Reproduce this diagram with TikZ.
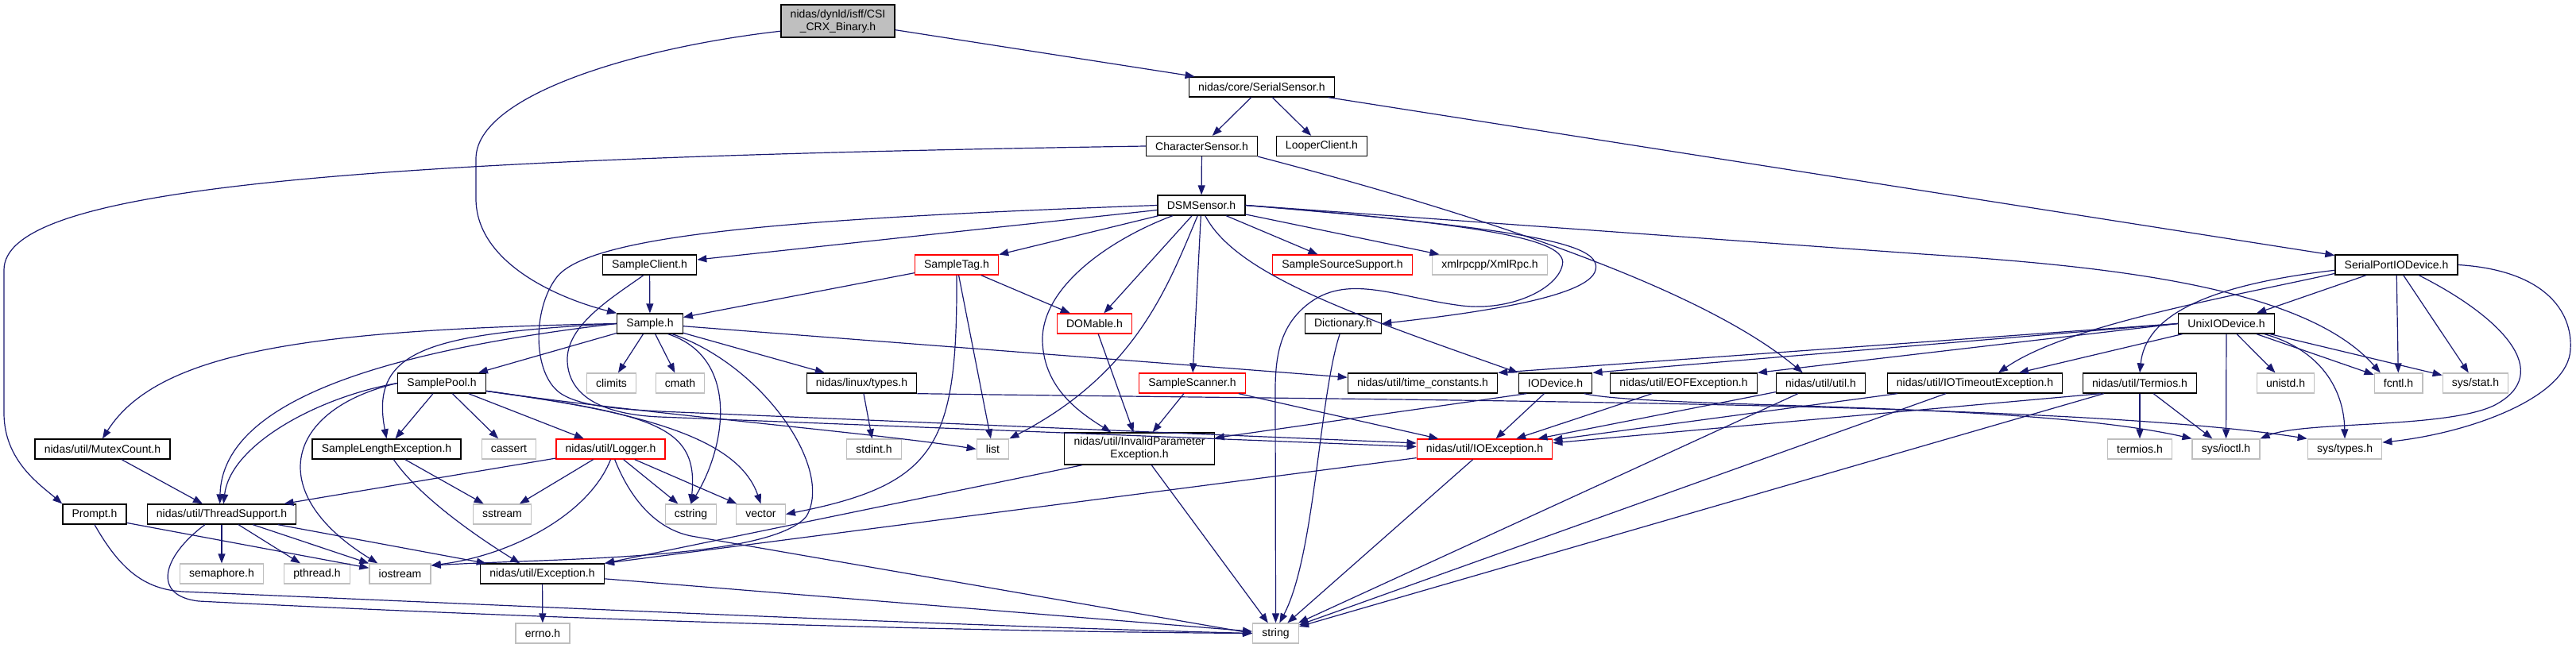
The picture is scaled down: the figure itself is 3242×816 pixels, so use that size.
\documentclass[tikz,border=0pt]{standalone}
\usepackage{fontspec}
\setmainfont{Liberation Sans}
\usepackage{tikz}
\usetikzlibrary{arrows.meta}
\definecolor{depBlue}{HTML}{191970}
\definecolor{sysGray}{HTML}{BFBFBF}
\definecolor{cutRed}{HTML}{FF0000}

\begin{document}
\begin{tikzpicture}[x=1pt, y=-1pt,
  hdr/.style={rectangle, draw=black, fill=white, line width=1.3pt, minimum height=25pt, inner xsep=11.7pt, inner ysep=0pt, font=\fontsize{14}{16}\selectfont},
  sys/.style={hdr, draw=sysGray},
  trunc/.style={hdr, draw=cutRed},
  dep/.style={-{Triangle[length=12pt, width=9pt]}, draw=depBlue, line width=1.2pt}
]
\useasboundingbox (0,0) rectangle (3242,816);
\node[hdr, fill=sysGray, minimum height=41pt, align=center] (root) at (1054.5,26.5) {nidas/dynld/isff/CSI\\\_CRX\_Binary.h};
\node[hdr] (serialsensor) at (1588,109.5) {nidas/core/SerialSensor.h};
\node[hdr] (charsensor) at (1512.5,184) {CharacterSensor.h};
\node[hdr] (looper) at (1663.5,184) {LooperClient.h};
\node[hdr] (dsm) at (1512,258.5) {DSMSensor.h};
\node[hdr] (sampleclient) at (817.5,333.5) {SampleClient.h};
\node[trunc] (sampletag) at (1204,333.5) {SampleTag.h};
\node[trunc] (sourcesupport) at (1689.5,333.5) {SampleSourceSupport.h};
\node[sys] (xmlrpc) at (1875,333.5) {xmlrpcpp/XmlRpc.h};
\node[hdr] (serialport) at (3016,333.5) {SerialPortIODevice.h};
\node[hdr] (sample) at (818,407.5) {Sample.h};
\node[trunc] (domable) at (1377.5,407.5) {DOMable.h};
\node[hdr] (dictionary) at (1690.5,407.5) {Dictionary.h};
\node[hdr] (unixio) at (2802,407.5) {UnixIODevice.h};
\node[hdr] (samplepool) at (556,482.5) {SamplePool.h};
\node[sys] (climits) at (769.5,482.5) {climits};
\node[sys] (cmath) at (856,482.5) {cmath};
\node[hdr] (linuxtypes) at (1084.5,482.5) {nidas/linux/types.h};
\node[trunc] (samplescanner) at (1500.5,482.5) {SampleScanner.h};
\node[hdr] (timeconst) at (1790.5,482.5) {nidas/util/time\_constants.h};
\node[hdr] (iodevice) at (1957.5,482.5) {IODevice.h};
\node[hdr] (eofexc) at (2119,482.5) {nidas/util/EOFException.h};
\node[hdr] (utilh) at (2291.5,482.5) {nidas/util/util.h};
\node[hdr] (iotimeout) at (2485.5,482.5) {nidas/util/IOTimeoutException.h};
\node[hdr] (termiosnx) at (2693,482.5) {nidas/util/Termios.h};
\node[sys] (unistd) at (2876.5,482.5) {unistd.h};
\node[sys] (fcntl) at (3018.5,482.5) {fcntl.h};
\node[sys] (sysstat) at (3115.5,482.5) {sys/stat.h};
\node[hdr] (mutexcount) at (129,565.5) {nidas/util/MutexCount.h};
\node[hdr] (samplelength) at (486.5,565.5) {SampleLengthException.h};
\node[sys] (cassert) at (640.5,565.5) {cassert};
\node[trunc] (logger) at (768.5,565.5) {nidas/util/Logger.h};
\node[sys] (stdint) at (1100,565.5) {stdint.h};
\node[sys] (list) at (1249.5,565.5) {list};
\node[hdr, minimum height=40pt, align=center] (invalidparam) at (1434,565) {nidas/util/InvalidParameter\\Exception.h};
\node[trunc] (ioexc) at (1868.5,565.5) {nidas/util/IOException.h};
\node[sys] (termiosh) at (2693,565.5) {termios.h};
\node[sys] (sysioctl) at (2801.5,565.5) {sys/ioctl.h};
\node[sys] (systypes) at (2951,565.5) {sys/types.h};
\node[hdr] (prompt) at (119,647.5) {Prompt.h};
\node[hdr] (threadsupport) at (279,647.5) {nidas/util/ThreadSupport.h};
\node[sys] (sstream) at (632,647.5) {sstream};
\node[sys] (cstring) at (869.5,647.5) {cstring};
\node[sys] (vector) at (957.5,647.5) {vector};
\node[sys] (semaphore) at (279,722.5) {semaphore.h};
\node[sys] (pthread) at (399,722.5) {pthread.h};
\node[sys] (iostream) at (503.5,722.5) {iostream};
\node[hdr] (exception) at (682.5,722.5) {nidas/util/Exception.h};
\node[sys] (errno) at (683,797.5) {errno.h};
\node[sys] (string) at (1605.5,797.5) {string};
\draw[dep] (root) -- (serialsensor);
\draw[dep] (root.190) .. controls (800,60) and (599,120) .. (599,200) -- (599,250) .. controls (599,330) and (700,375) .. (sample.north west);
\foreach \x in {charsensor,looper,serialport} \draw[dep] (serialsensor) -- (\x);
\draw[dep] (charsensor) -- (dsm);
\draw[dep] (charsensor.west) .. controls (400,200) and (5,240) .. (5,340) -- (5,520) .. controls (5,580) and (50,610) .. (prompt.north west);
\draw[dep] (charsensor.south east) .. controls (1900,280) and (2150,370) .. (utilh.150);
\foreach \x in {sampleclient,sampletag,domable,samplescanner,sourcesupport,xmlrpc} \draw[dep] (dsm) -- (\x);
\draw[dep] (dsm.west) .. controls (1000,275) and (740,295) .. (700,350) .. controls (670,390) and (670,470) .. (705,495) .. controls (730,512) and (780,515) .. (830,518) -- (ioexc.175);
\draw[dep] (dsm.200) .. controls (1400,300) and (1310,360) .. (1312,430) .. controls (1314,490) and (1360,520) .. (invalidparam.150);
\draw[dep] (dsm.250) .. controls (1470,360) and (1430,470) .. (list.north east);
\draw[dep] (dsm.290) .. controls (1555,345) and (1700,395) .. (iodevice.north west);
\draw[dep] (dsm.east) .. controls (1900,285) and (1975,305) .. (1966,335) .. controls (1958,365) and (1900,392) .. (1840,385) .. controls (1760,375) and (1700,345) .. (1650,380) .. controls (1615,405) and (1605,440) .. (1605,490) -- (string);
\draw[dep] (dsm.east) .. controls (1950,290) and (2015,310) .. (2008,340) .. controls (2000,375) and (1850,395) .. (dictionary.east);
\draw[dep] (dsm.east) -- (2420,320) .. controls (2650,335) and (2900,360) .. (fcntl.150);
\draw[dep] (sampleclient) -- (sample);
\draw[dep] (sampleclient.240) .. controls (770,375) and (712,410) .. (714,455) .. controls (716,500) and (760,522) .. (830,525) -- (ioexc.178);
\foreach \x in {sample,domable,list} \draw[dep] (sampletag) -- (\x);
\draw[dep] (sampletag.south) .. controls (1205,560) and (1180,610) .. (vector.east);
\draw[dep] (domable) -- (invalidparam);
\draw[dep] (dictionary) .. controls (1660,500) and (1655,700) .. (string.70);
\foreach \x in {samplepool,climits,cmath,linuxtypes,timeconst} \draw[dep] (sample) -- (\x);
\draw[dep] (sample.west) .. controls (400,415) and (200,440) .. (mutexcount.north);
\draw[dep] (sample.west) .. controls (540,420) and (465,440) .. (samplelength.north);
\draw[dep] (sample.west) .. controls (500,440) and (280,500) .. (threadsupport.100);
\draw[dep] (sample.330) .. controls (930,450) and (915,560) .. (cstring.north);
\draw[dep] (sample.335) .. controls (960,460) and (1050,590) .. (1015,650) .. controls (970,705) and (700,703) .. (iostream.15);
\foreach \x in {samplelength,cassert,logger} \draw[dep] (samplepool) -- (\x);
\draw[dep] (samplepool.west) .. controls (400,500) and (290,560) .. (threadsupport.80);
\draw[dep] (samplepool.west) .. controls (360,515) and (330,620) .. (iostream.155);
\draw[dep] (samplepool.350) .. controls (800,520) and (1100,545) .. (list.west);
\draw[dep] (samplepool.350) .. controls (820,522) and (880,535) .. (cstring.north);
\draw[dep] (samplepool.350) .. controls (820,520) and (930,555) .. (vector.north);
\foreach \x in {threadsupport,sstream,cstring,vector} \draw[dep] (logger) -- (\x);
\draw[dep] (logger.south) .. controls (740,650) and (640,700) .. (iostream.15);
\draw[dep] (logger) .. controls (790,620) and (820,665) .. (870,675) -- (string.west);
\draw[dep] (samplelength) -- (sstream);
\draw[dep] (samplelength) .. controls (520,615) and (575,660) .. (exception.155);
\draw[dep] (mutexcount) -- (threadsupport);
\foreach \x in {semaphore,pthread,iostream,exception} \draw[dep] (threadsupport) -- (\x);
\draw[dep] (threadsupport.212) .. controls (205,700) and (190,750) .. (250,757) .. controls (700,780) and (1200,795) .. (string.west);
\draw[dep] (prompt.345) -- (iostream);
\draw[dep] (prompt.south) .. controls (150,715) and (180,742) .. (230,745) .. controls (700,765) and (1200,788) .. (string.west);
\draw[dep] (exception) -- (errno);
\draw[dep] (ioexc) -- (exception.north east);
\draw[dep] (invalidparam.196) -- (exception.north east);
\foreach \x in {exception,invalidparam,ioexc,utilh,iotimeout,termiosnx} \draw[dep] (\x) -- (string);
\draw[dep] (linuxtypes) -- (stdint);
\draw[dep] (linuxtypes.south east) .. controls (1800,505) and (2600,505) .. (systypes.north west);
\draw[dep] (samplescanner) -- (invalidparam);
\foreach \x in {samplescanner,iodevice,eofexc,utilh,iotimeout} \draw[dep] (\x) -- (ioexc);
\draw[dep] (iodevice.200) -- (invalidparam);
\draw[dep] (iodevice.340) .. controls (2080,515) and (2550,505) .. (sysioctl.north west);
\draw[dep] (termiosnx.195) -- (ioexc);
\foreach \x in {termiosh,sysioctl} \draw[dep] (termiosnx) -- (\x);
\foreach \x in {timeconst,iodevice,eofexc} \draw[dep] (unixio.west) -- (\x.north east);
\foreach \x in {iotimeout,unistd,sysioctl,fcntl,sysstat} \draw[dep] (unixio) -- (\x);
\draw[dep] (unixio) .. controls (2920,440) and (2950,490) .. (systypes.north);
\foreach \x in {unixio,fcntl,sysstat} \draw[dep] (serialport) -- (\x);
\draw[dep] (serialport.188) .. controls (2800,375) and (2600,410) .. (iotimeout.24);
\draw[dep] (serialport.185) .. controls (2770,360) and (2700,400) .. (termiosnx.north);
\draw[dep] (serialport.335) .. controls (3150,400) and (3215,470) .. (3140,510) .. controls (3080,540) and (2900,530) .. (sysioctl.north east);
\draw[dep] (serialport.east) .. controls (3200,340) and (3238,390) .. (3235,440) .. controls (3232,500) and (3110,545) .. (systypes.10);
\end{tikzpicture}
\end{document}
